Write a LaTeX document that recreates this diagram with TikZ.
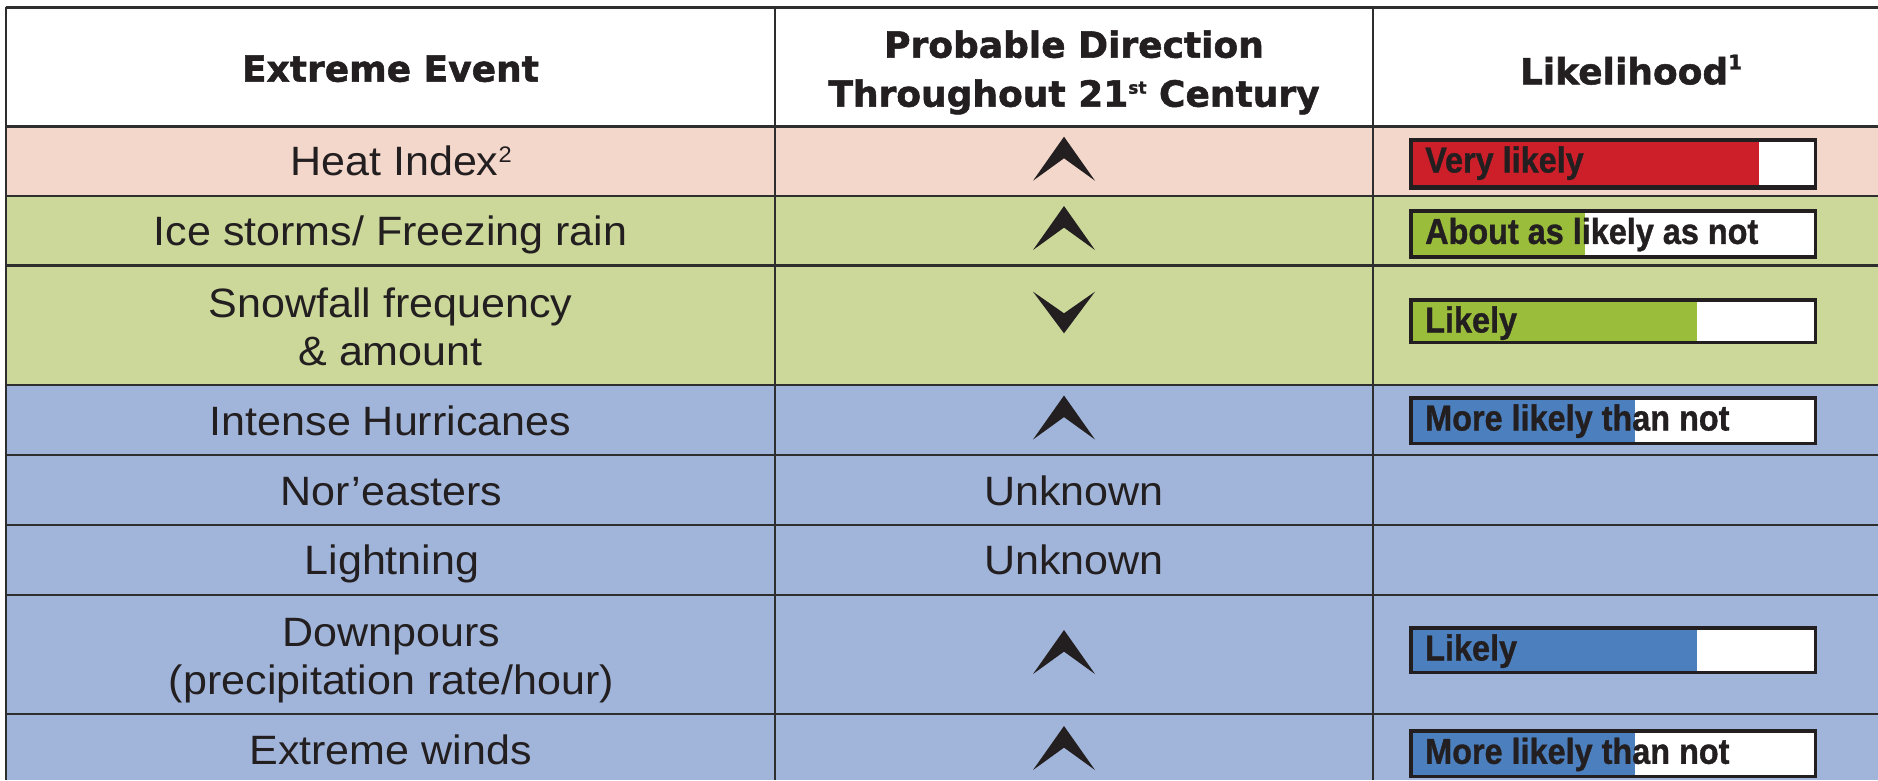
\documentclass[tikz,border=0pt]{standalone}
\usepackage{fontspec}
\setmainfont{Liberation Sans}[FakeStretch=1.05]
\newfontfamily\hdrfont{DejaVu Sans}[BoldFeatures={FakeBold=1.5}]
\newfontfamily\barfont{Liberation Sans}[FakeStretch=0.9,BoldFeatures={FakeBold=1}]
\definecolor{heatbg}{HTML}{F4D7CB}
\definecolor{greenbg}{HTML}{CBD89A}
\definecolor{bluebg}{HTML}{A1B5DA}
\definecolor{barred}{HTML}{CD1F2A}
\definecolor{bargreen}{HTML}{9ABD3C}
\definecolor{barblue}{HTML}{4C7FBD}
\definecolor{gridc}{HTML}{2E2E2E}
\definecolor{txt}{HTML}{231F20}
\newcommand\bodyfont{\fontsize{41}{48}\selectfont\lineskiplimit=-100pt\relax}
\newcommand\hfont{\hdrfont\bfseries\fontsize{36}{49}\selectfont\lineskiplimit=-100pt\relax}
\newcommand\cs{\rule[-9pt]{0pt}{38.4pt}}
\newcommand\hs{\rule[-9pt]{0pt}{35.2pt}}
\newcommand\sups[3]{\raisebox{#1}{\fontsize{#2}{#2}\selectfont #3}}
\tikzset{
  gridline/.style={draw=gridc, line width=2.5pt},
  body/.style={font=\bodyfont, text=txt, inner sep=0pt, align=center},
  head/.style={font=\hfont, text=txt, inner sep=0pt, align=center},
  barframe/.style={draw=txt, line width=3.5pt},
  barlabel/.style={font=\barfont\bfseries\fontsize{36}{40}\selectfont, text=txt, inner sep=0pt, anchor=base west},
  chevfill/.style={fill=txt},
  upchev/.pic={\fill[chevfill] (0,0) -- (31,44) -- (0,21.6) -- (-31,44) -- cycle;},
  downchev/.pic={\fill[chevfill] (0,0) -- (31,-41.6) -- (0,-20) -- (-31,-41.6) -- cycle;}
}
\newcommand\likebar[6]{%
  \fill[white] (1409,#2) rectangle (1817,#3);
  \fill[#5] (1409,#2) rectangle (#4,#3);
  \draw[barframe] (1410.75,#2+1.75) rectangle (1815.25,#3-1.75);
  \node[barlabel] (#1) at (1425,#2+34.5) {#6};
}
\begin{document}
\begin{tikzpicture}[x=1pt,y=-1pt]
\useasboundingbox (0,0) rectangle (1878,780);
\fill[white] (0,0) rectangle (1878,780);
% row backgrounds
\fill[heatbg] (6,126.5) rectangle (1878,196);
\fill[greenbg] (6,196) rectangle (1878,385);
\fill[bluebg] (6,385) rectangle (1878,780);
% grid
\foreach \yy in {7.3,126.5,196,265.5,385,455,525,595,714}
  \draw[gridline] (6,\yy) -- (1878,\yy);
\foreach \xx in {6,775,1373}
  \draw[gridline] (\xx,7.3) -- (\xx,780);
% headers
\node[head] (h1) at (390.5,73) {\hs Extreme Event};
\node[head] (h2) at (1074,73) {\hs Probable Direction\\\hs Throughout 21\sups{13pt}{17}{st} Century};
\node[head] (h3) at (1631,74) {\hs Likelihood\sups{15pt}{20}{1}};
% events
\node[body] (e1) at (401,165.5) {\cs Heat Index\sups{13.3pt}{22.5}{2}};
\node[body] (e2) at (390.5,235) {\cs Ice storms/ Freezing rain};
\node[body] (e3) at (390.5,331.5) {\cs Snowfall frequency\\\cs \& amount};
\node[body] (e4) at (390.5,425) {\cs Intense Hurricanes};
\node[body] (e5) at (391.5,495) {\cs Nor’easters};
\node[body] (e6) at (392,564.5) {\cs Lightning};
\node[body] (e7) at (391.5,660) {\cs Downpours\\\cs (precipitation rate/hour)};
\node[body] (e8) at (390.5,754) {\cs Extreme winds};
% directions
\pic at (1064,136.7) {upchev};
\pic at (1064,206) {upchev};
\pic at (1064,333.3) {downchev};
\pic at (1064,395.5) {upchev};
\node[body] (d5) at (1074,495) {\cs Unknown};
\node[body] (d6) at (1074,564.5) {\cs Unknown};
\pic at (1064,630) {upchev};
\pic at (1064,726) {upchev};
% likelihood bars
\likebar{b1}{138}{190}{1759}{barred}{Very likely}
\fill[txt] (1409,184.5) rectangle (1817,190);
\likebar{b2}{209.4}{258.6}{1585}{bargreen}{About as likely as not}
\likebar{b3}{298}{344}{1697}{bargreen}{Likely}
\likebar{b4}{396}{445}{1634.5}{barblue}{More likely than not}
\likebar{b5}{626}{674.4}{1697}{barblue}{Likely}
\likebar{b6}{729.3}{778}{1634.5}{barblue}{More likely than not}
\end{tikzpicture}
\end{document}
